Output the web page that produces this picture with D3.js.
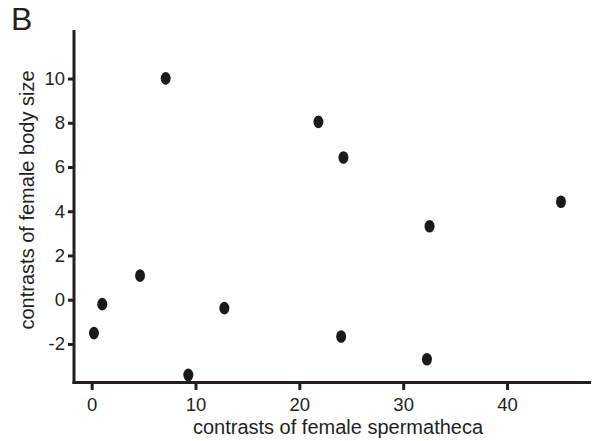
<!DOCTYPE html>
<html lang="en">
<head>
<meta charset="utf-8">
<title>Contrasts scatter</title>
<script src="https://d3js.org/d3.v7.min.js"></script>
<style>
  body { margin: 0; background: #fff; }
  svg text { font-family: "Liberation Sans", Arial, sans-serif; fill: #231f20; }
  .axis path, .axis line { stroke: #231f20; stroke-width: 3px; }
  .axis path { stroke-linecap: square; }
</style>
</head>
<body>
<div id="my_dataviz"></div>
<script>

// data
var spermatheca = [0.22, 1.02, 4.66, 7.13, 9.31, 12.78, 21.84, 24.25, 24.03, 32.29, 32.54, 45.2];
var bodySize    = [-1.51, -0.2, 1.09, 10.01, -3.40, -0.38, 8.04, 6.43, -1.66, -2.69, 3.32, 4.43];
var xTicks = [0, 10, 20, 30, 40];
var yTicks = [-2, 0, 2, 4, 6, 8, 10];

var width = 592, height = 441;

var svg = d3.select("#my_dataviz").append("svg")
    .attr("width", width)
    .attr("height", height);

// scales (axis extents as drawn in the figure)
var x = d3.scaleLinear().domain([-1.75, 47.9]).range([73.5, 589]);
var y = d3.scaleLinear().domain([-3.72, 12.15]).range([382, 31]);

// plain hyphen for negatives, like the original
var plain = function(d) { return String(d); };

// x axis
svg.append("g")
    .attr("class", "axis")
    .attr("transform", "translate(0," + y.range()[0] + ")")
    .call(d3.axisBottom(x).tickValues(xTicks).tickFormat(plain).tickSize(8).tickSizeOuter(0).tickPadding(8))
    .selectAll("text")
      .style("font-size", "18.5px")
      .attr("fill", "#231f20");

// y axis
svg.append("g")
    .attr("class", "axis")
    .attr("transform", "translate(" + x.range()[0] + ",0)")
    .call(d3.axisLeft(y).tickValues(yTicks).tickFormat(plain).tickSize(5.5).tickSizeOuter(0).tickPadding(3))
    .selectAll("text")
      .style("font-size", "18.5px")
      .attr("fill", "#231f20");

// points
svg.append("g")
  .selectAll("ellipse")
  .data(spermatheca)
  .enter()
  .append("ellipse")
    .attr("cx", function(d) { return x(d); })
    .attr("cy", function(d, i) { return y(bodySize[i]); })
    .attr("rx", 5)
    .attr("ry", 6.3)
    .attr("fill", "#1a1a1a");

// axis titles
svg.append("text")
    .attr("x", 338)
    .attr("y", 434)
    .attr("text-anchor", "middle")
    .style("font-size", "20px")
    .text("contrasts of female spermatheca");

svg.append("text")
    .attr("transform", "translate(34,200) rotate(-90)")
    .attr("text-anchor", "middle")
    .style("font-size", "20px")
    .text("contrasts of female body size");

// panel letter
svg.append("text")
    .attr("x", 11)
    .attr("y", 30)
    .style("font-size", "32px")
    .text("B");

</script>
</body>
</html>
